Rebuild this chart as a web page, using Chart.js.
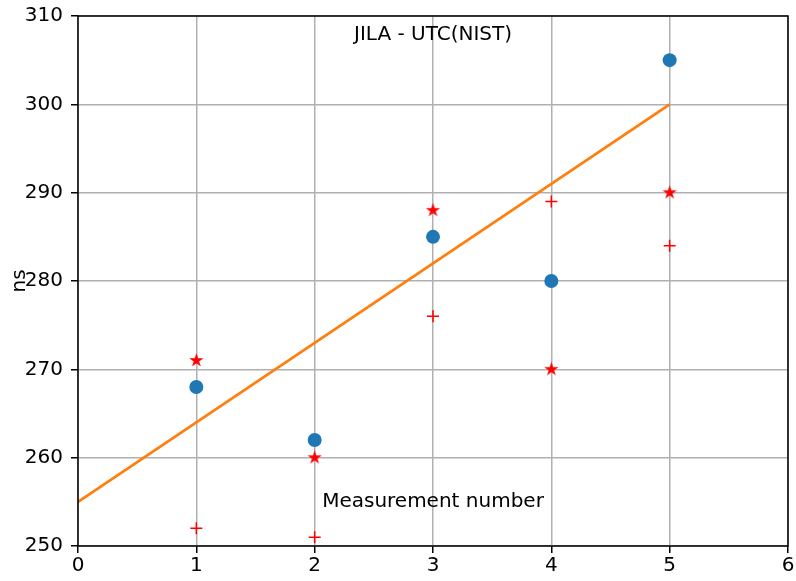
<!DOCTYPE html>
<html>
<head>
<meta charset="utf-8">
<script src="https://cdn.jsdelivr.net/npm/chart.js@4.4.0/dist/chart.umd.min.js"></script>
<style>
  html, body { margin: 0; padding: 0; background: #fff; }
  #wrap { width: 796px; height: 581px; }
</style>
</head>
<body>
<div id="wrap"><canvas id="jilaChart"></canvas></div>
<script>
// Measurement data (ns)
const measurement = [1, 2, 3, 4, 5];
const jilaValues = [268, 262, 285, 280, 305];
const starValues = [271, 260, 288, 270, 290];
const plusValues = [252, 251, 276, 289, 284];
const fitX = [0, 5];
const fitY = [255, 300];
const xTicks = [0, 1, 2, 3, 4, 5, 6];
const yTicks = [250, 260, 270, 280, 290, 300, 310];

const FONT = "'DejaVu Sans', sans-serif";
const FSIZE = 20;

function pts(xs, ys) {
    return xs.map((x, i) => ({ x: x, y: ys[i] }));
}

// filled five-point star, used as a point style
function makeStar(r, color) {
    const c = document.createElement('canvas');
    const s = Math.ceil(r * 2 + 2);
    c.width = s; c.height = s;
    const g = c.getContext('2d');
    const inner = r * 0.382;
    g.beginPath();
    for (let i = 0; i < 10; i++) {
        const rad = i % 2 === 0 ? r : inner;
        const a = -Math.PI / 2 + i * Math.PI / 5;
        const px = s / 2 + rad * Math.cos(a);
        const py = s / 2 + rad * Math.sin(a);
        if (i === 0) g.moveTo(px, py); else g.lineTo(px, py);
    }
    g.closePath();
    g.fillStyle = color;
    g.fill();
    return c;
}

// frame around the plot and the in-plot labels
const framePlugin = {
    id: 'frame',
    afterDraw(chart) {
        const a = chart.chartArea;
        const ctx = chart.ctx;
        const xs = chart.scales.x;
        ctx.save();
        ctx.strokeStyle = '#000';
        ctx.lineWidth = 1.5;
        ctx.strokeRect(a.left, a.top, a.right - a.left, a.bottom - a.top);
        ctx.fillStyle = '#000';
        ctx.font = FSIZE + 'px ' + FONT;
        ctx.textAlign = 'center';
        ctx.textBaseline = 'middle';
        ctx.fillText('JILA - UTC(NIST)', xs.getPixelForValue(3), a.top + 19);
        ctx.fillText('Measurement number', xs.getPixelForValue(3), a.bottom - 44);
        ctx.restore();
    }
};

new Chart(document.getElementById('jilaChart'), {
    type: 'scatter',
    data: {
        datasets: [
            {
                label: 'JILA',
                data: pts(measurement, jilaValues),
                backgroundColor: '#1f77b4',
                borderWidth: 0,
                pointRadius: 7,
                pointHoverRadius: 7
            },
            {
                label: 'star',
                data: pts(measurement, starValues),
                pointStyle: makeStar(7.5, '#ff0000'),
                pointRadius: 7
            },
            {
                label: 'plus',
                data: pts(measurement, plusValues),
                pointStyle: 'cross',
                borderColor: '#ff0000',
                borderWidth: 1.5,
                pointRadius: 6
            },
            {
                type: 'line',
                label: 'fit',
                data: pts(fitX, fitY),
                borderColor: '#ff7f0e',
                borderWidth: 2.8,
                pointRadius: 0,
                fill: false,
                tension: 0
            }
        ]
    },
    options: {
        responsive: true,
        maintainAspectRatio: false,
        animation: false,
        layout: { padding: { top: 16, right: 7, left: 0, bottom: 0 } },
        plugins: { legend: { display: false }, tooltip: { enabled: false } },
        scales: {
            x: {
                type: 'linear',
                min: 0, max: 6,
                afterBuildTicks: s => { s.ticks = xTicks.map(v => ({ value: v })); },
                afterFit: s => { s.height = 35; s.paddingLeft = 0; s.paddingRight = 0; },
                grid: { color: '#b0b0b0', lineWidth: 1.5, tickColor: '#000', tickLength: 7 },
                border: { display: false },
                ticks: { color: '#000', font: { family: FONT, size: FSIZE }, padding: 1, maxRotation: 0 }
            },
            y: {
                min: 250, max: 310,
                afterBuildTicks: s => { s.ticks = yTicks.map(v => ({ value: v })); },
                afterFit: s => { s.width = 78; s.paddingTop = 0; s.paddingBottom = 0; },
                grid: { color: '#b0b0b0', lineWidth: 1.5, tickColor: '#000', tickLength: 7 },
                border: { display: false },
                ticks: { color: '#000', font: { family: FONT, size: FSIZE }, padding: 8 },
                title: { display: true, text: 'ns', color: '#000', font: { family: FONT, size: FSIZE }, padding: { top: 8, bottom: 0 } }
            }
        }
    },
    plugins: [framePlugin]
});
</script>
</body>
</html>
